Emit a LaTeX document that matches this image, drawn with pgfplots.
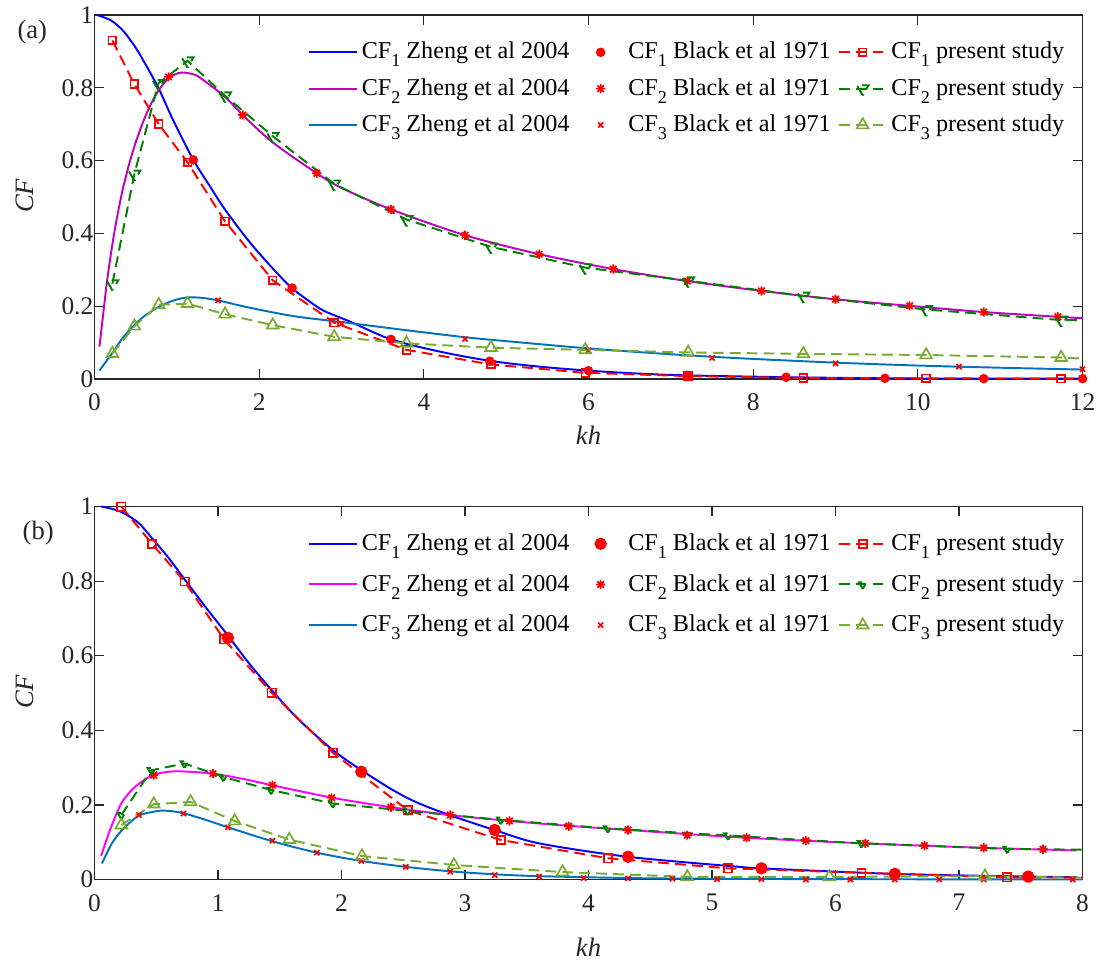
\documentclass[border=0pt]{standalone}
\usepackage{fontspec}
\setmainfont{Liberation Serif}
\usepackage{pgfplots}
\pgfplotsset{compat=1.18}

\definecolor{zblue}{rgb}{0,0,1}
\definecolor{zmagA}{rgb}{0.75,0,0.75}
\definecolor{zmagB}{rgb}{1,0,1}
\definecolor{zcyan}{rgb}{0,0.447,0.741}
\definecolor{pgreen}{rgb}{0,0.5,0}
\definecolor{lgreen}{rgb}{0.466,0.674,0.188}
\definecolor{axgray}{rgb}{0.15,0.15,0.15}

% 8-armed asterisk like the matlab '*' marker
\pgfdeclareplotmark{mstar}{%
  \pgfpathmoveto{\pgfqpoint{-\pgfplotmarksize}{0pt}}\pgfpathlineto{\pgfqpoint{\pgfplotmarksize}{0pt}}%
  \pgfpathmoveto{\pgfqpoint{0pt}{-\pgfplotmarksize}}\pgfpathlineto{\pgfqpoint{0pt}{\pgfplotmarksize}}%
  \pgfpathmoveto{\pgfqpoint{-0.707\pgfplotmarksize}{-0.707\pgfplotmarksize}}\pgfpathlineto{\pgfqpoint{0.707\pgfplotmarksize}{0.707\pgfplotmarksize}}%
  \pgfpathmoveto{\pgfqpoint{-0.707\pgfplotmarksize}{0.707\pgfplotmarksize}}\pgfpathlineto{\pgfqpoint{0.707\pgfplotmarksize}{-0.707\pgfplotmarksize}}%
  \pgfusepathqstroke}

\newcommand{\sub}[1]{\raisebox{-0.33em}{\fontsize{7.5}{8}\selectfont #1}}

\pgfplotsset{cfstyle/.style={
  scale only axis, width=14.371cm, anchor=south west,
  xmin=0, ymin=0, ymax=1, ytick={0,0.2,0.4,0.6,0.8,1},
  axis line style={axgray,line width=0.5pt},
  tick style={axgray,line width=0.5pt}, tick align=inside, major tick length=0.14cm,
  /pgf/number format/assume math mode=true,
  tick label style={font=\fontsize{10.5}{12}\selectfont, text=axgray},
  xticklabel style={yshift=-2.6pt},
  yticklabel style={xshift=3pt},
  label style={font=\fontsize{11}{13}\selectfont\itshape, text=axgray},
  xlabel={kh}, ylabel={CF},
  ylabel style={at={(rel axis cs:-0.071,0.503)}, anchor=center},
  clip=false,
  legend columns=3, transpose legend,
  legend cell align=left,
  legend style={draw=none, fill=none, font=\fontsize{10}{12}\selectfont,
    /tikz/every even column/.append style={column sep=0.05cm}},
  legend image code/.code={\draw[mark repeat=2,mark phase=2,##1] plot coordinates {(0cm,0cm) (0.35cm,0cm) (0.7cm,0cm)};},
  zh/.style={line width=0.8pt, smooth, no marks},
  bl/.style={only marks, red, line width=0.7pt,
    legend image code/.code={\path[draw=none,fill=none] (0cm,0cm) (0.7cm,0cm); \draw[####1] plot coordinates {(0.35cm,0cm)};}},
  ps/.style={line width=0.8pt, dash pattern=on 4.5pt off 2.5pt, mark options={solid, line width=0.7pt},
    legend image code/.code={\draw[####1, mark indices={2}] plot coordinates {(0cm,0cm) (0.35cm,0cm) (0.7cm,0cm)};}},
}}

\begin{document}
\begin{tikzpicture}
\path[use as bounding box] (0,0) rectangle (16cm,13.964cm);

% ---------------- panel (a) ----------------
\begin{axis}[cfstyle, at={(1.375cm,8.451cm)}, height=5.295cm,
  xmax=12, xtick={0,2,4,6,8,10,12},
  xlabel style={at={(rel axis cs:0.5,-0.154)}, anchor=center},
  legend style={at={(rel axis cs:0.993,0.962)}, anchor=north east,
    nodes={inner xsep=1.5pt, inner ysep=3.3pt}}]
\addplot[zh, zblue] coordinates {(0.03,1.0)(0.2,0.985)(0.35,0.956)(0.5,0.91)(0.6,0.872)(0.775,0.80)(0.957,0.71)(1.2,0.602)(1.4,0.53)(1.565,0.472)(1.8,0.40)(1.97,0.353)(2.2,0.295)(2.395,0.25)(2.6,0.215)(2.78,0.188)(3.1,0.158)(3.6,0.109)(4.2,0.075)(4.8,0.050)(5.4,0.034)(6.0,0.023)(6.6,0.015)(7.2,0.010)(8.4,0.005)(9.6,0.002)(10.8,0.001)(12,0.001)};
\addlegendentry{CF\sub{1} Zheng et al 2004}
\addplot[zh, zmagA] coordinates {(0.06,0.089)(0.1,0.168)(0.148,0.262)(0.2,0.345)(0.25,0.415)(0.3,0.475)(0.35,0.528)(0.42,0.59)(0.5,0.65)(0.6,0.712)(0.7,0.762)(0.8,0.800)(0.9,0.826)(1.0,0.839)(1.08,0.842)(1.2,0.837)(1.28,0.828)(1.585,0.775)(1.80,0.725)(2.165,0.650)(2.70,0.565)(3.0,0.525)(3.6,0.466)(4.5,0.395)(5.4,0.343)(6.3,0.302)(7.2,0.269)(8.1,0.242)(9.0,0.219)(9.9,0.201)(10.8,0.184)(11.7,0.171)(12,0.167)};
\addlegendentry{CF\sub{2} Zheng et al 2004}
\addplot[zh, zcyan] coordinates {(0.059,0.023)(0.23,0.076)(0.35,0.115)(0.484,0.148)(0.6,0.172)(0.78,0.198)(0.95,0.215)(1.12,0.224)(1.3,0.223)(1.5,0.216)(1.8,0.200)(2.165,0.183)(2.5,0.170)(2.98,0.157)(3.79,0.134)(4.49,0.115)(5.0,0.104)(6.0,0.084)(7.0,0.068)(7.84,0.057)(9.0,0.045)(10.0,0.037)(11.0,0.031)(12,0.026)};
\addlegendentry{CF\sub{3} Zheng et al 2004}
\addplot[bl, mark=*, mark size=1.6pt] coordinates {(1.2,0.602)(2.4,0.250)(3.6,0.109)(4.8,0.049)(6.0,0.023)(7.2,0.010)(8.4,0.005)(9.6,0.002)(10.8,0.001)(12,0.001)};
\addlegendentry{CF\sub{1} Black et al 1971}
\addplot[bl, mark=mstar, mark size=1.9pt] coordinates {(0.9,0.830)(1.8,0.725)(2.7,0.565)(3.6,0.466)(4.5,0.395)(5.4,0.343)(6.3,0.302)(7.2,0.269)(8.1,0.242)(9.0,0.219)(9.9,0.201)(10.8,0.184)(11.7,0.171)};
\addlegendentry{CF\sub{2} Black et al 1971}
\addplot[bl, mark=x, mark size=1.5pt] coordinates {(1.5,0.216)(3.0,0.152)(4.5,0.110)(6.0,0.078)(7.5,0.058)(9.0,0.043)(10.5,0.034)(12.0,0.027)};
\addlegendentry{CF\sub{3} Black et al 1971}
\addplot[ps, red, mark=square, mark size=1.6pt, mark indices={1,...,14}] coordinates {(0.217,0.93)(0.484,0.81)(0.78,0.70)(1.13,0.595)(1.585,0.433)(2.165,0.271)(2.91,0.155)(3.79,0.080)(4.815,0.040)(5.96,0.017)(7.21,0.008)(8.61,0.003)(10.1,0.002)(11.74,0.001)(12,0.001)};
\addlegendentry{CF\sub{1} present study}
\addplot[ps, pgreen, mark=triangle, mark size=2.8pt, mark options={rotate=180}, mark indices={1,...,14}] coordinates {(0.217,0.262)(0.484,0.563)(0.775,0.812)(1.13,0.874)(1.585,0.778)(2.165,0.667)(2.91,0.536)(3.79,0.438)(4.815,0.363)(5.96,0.306)(7.21,0.270)(8.61,0.228)(10.1,0.191)(11.74,0.162)(12,0.162)};
\addlegendentry{CF\sub{2} present study}
\addplot[ps, lgreen, mark=triangle, mark size=2.8pt, mark indices={1,...,14}] coordinates {(0.217,0.070)(0.484,0.145)(0.78,0.204)(1.13,0.207)(1.585,0.178)(2.165,0.148)(2.91,0.116)(3.79,0.098)(4.815,0.086)(5.96,0.080)(7.21,0.073)(8.61,0.069)(10.1,0.066)(11.74,0.059)(12,0.056)};
\addlegendentry{CF\sub{3} present study}
\node[font=\fontsize{11}{13}\selectfont, text=axgray] at (rel axis cs:-0.063,0.953) {(a)};
\end{axis}

% ---------------- panel (b) ----------------
\begin{axis}[cfstyle, at={(1.375cm,1.171cm)}, height=5.425cm,
  xmax=8, xtick={0,1,2,3,4,5,6,7,8},
  xlabel style={at={(rel axis cs:0.5,-0.181)}, anchor=center},
  legend style={at={(rel axis cs:0.993,0.969)}, anchor=north east,
    nodes={inner xsep=1.5pt, inner ysep=4.2pt}}]
\addplot[zh, zblue] coordinates {(0.054,1.0)(0.2,0.988)(0.35,0.958)(0.466,0.915)(0.6,0.862)(0.729,0.805)(0.9,0.73)(1.076,0.656)(1.25,0.58)(1.434,0.508)(1.65,0.43)(1.93,0.347)(2.157,0.294)(2.4,0.243)(2.6,0.208)(2.873,0.173)(3.237,0.133)(3.6,0.097)(4.318,0.061)(5.22,0.034)(5.4,0.030)(6.48,0.015)(7.55,0.008)(7.96,0.006)};
\addlegendentry{CF\sub{1} Zheng et al 2004}
\addplot[zh, zmagB] coordinates {(0.054,0.063)(0.114,0.123)(0.217,0.204)(0.33,0.249)(0.474,0.280)(0.6,0.289)(0.71,0.290)(0.954,0.284)(1.2,0.270)(1.436,0.253)(1.93,0.219)(2.40,0.194)(2.873,0.173)(3.36,0.157)(3.84,0.144)(4.318,0.133)(5.22,0.113)(6.23,0.097)(7.20,0.085)(7.95,0.078)};
\addlegendentry{CF\sub{2} Zheng et al 2004}
\addplot[zh, zcyan] coordinates {(0.06,0.043)(0.141,0.097)(0.222,0.132)(0.358,0.171)(0.52,0.184)(0.6,0.184)(0.718,0.178)(0.9,0.160)(1.081,0.140)(1.436,0.103)(1.80,0.072)(2.157,0.050)(2.52,0.034)(2.88,0.022)(3.24,0.014)(3.6,0.009)(4.32,0.004)(5.0,0.002)(6.0,0.001)(8.0,0.0)};
\addlegendentry{CF\sub{3} Zheng et al 2004}
\addplot[bl, mark=*, mark size=2.2pt] coordinates {(1.08,0.648)(2.16,0.289)(3.24,0.133)(4.32,0.061)(5.40,0.030)(6.48,0.015)(7.56,0.008)};
\addlegendentry{CF\sub{1} Black et al 1971}
\addplot[bl, mark=mstar, mark size=1.9pt] coordinates {(0.48,0.280)(0.96,0.284)(1.44,0.253)(1.92,0.219)(2.40,0.194)(2.88,0.173)(3.36,0.157)(3.84,0.143)(4.32,0.133)(4.80,0.119)(5.28,0.112)(5.76,0.104)(6.24,0.097)(6.72,0.091)(7.20,0.085)(7.68,0.081)};
\addlegendentry{CF\sub{2} Black et al 1971}
\addplot[bl, mark=x, mark size=1.5pt] coordinates {(0.36,0.173)(0.72,0.177)(1.08,0.140)(1.44,0.104)(1.80,0.072)(2.16,0.050)(2.52,0.034)(2.88,0.021)(3.24,0.012)(3.60,0.008)(3.96,0.004)(4.32,0.003)(4.68,0.002)(5.04,0.001)(5.40,0.001)(5.76,0.0)(6.12,0.0)(6.48,0.0)(6.84,0.0)(7.20,0.0)(7.56,0.0)(7.92,0.0)};
\addlegendentry{CF\sub{3} Black et al 1971}
\addplot[ps, red, mark=square, mark size=1.7pt, mark indices={1,...,12}] coordinates {(0.217,1.0)(0.466,0.90)(0.729,0.799)(1.049,0.644)(1.434,0.501)(1.93,0.34)(2.535,0.186)(3.29,0.106)(4.156,0.057)(5.13,0.030)(6.21,0.018)(7.39,0.006)(8.0,0.005)};
\addlegendentry{CF\sub{1} present study}
\addplot[ps, pgreen, mark=triangle, mark size=1.8pt, mark options={rotate=180}, mark indices={1,...,12}] coordinates {(0.217,0.173)(0.46,0.293)(0.729,0.311)(1.043,0.275)(1.43,0.240)(1.93,0.204)(2.535,0.184)(3.29,0.160)(4.156,0.137)(5.13,0.118)(6.21,0.097)(7.39,0.082)(8.0,0.080)};
\addlegendentry{CF\sub{2} present study}
\addplot[ps, lgreen, mark=triangle, mark size=2.8pt, mark indices={1,...,11}] coordinates {(0.217,0.146)(0.48,0.202)(0.778,0.208)(1.135,0.157)(1.577,0.107)(2.165,0.063)(2.91,0.039)(3.79,0.020)(4.80,0.007)(5.95,0.007)(7.21,0.009)(8.0,0.005)};
\addlegendentry{CF\sub{3} present study}
\node[font=\fontsize{11}{13}\selectfont, text=axgray] at (rel axis cs:-0.057,0.929) {(b)};
\end{axis}
\end{tikzpicture}
\end{document}
